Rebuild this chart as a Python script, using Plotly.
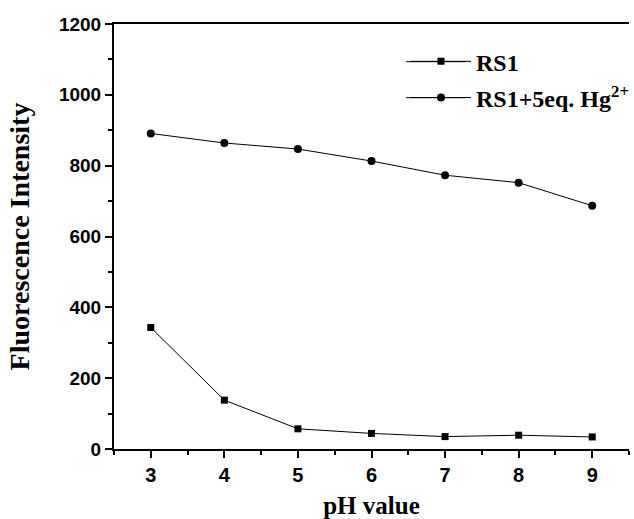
import plotly.graph_objects as go

ph = [3, 4, 5, 6, 7, 8, 9]
rs1 = [343, 138, 57, 44, 35, 39, 34]
rs1_hg = [891, 864, 847, 813, 773, 752, 687]
x_ticks = [3, 4, 5, 6, 7, 8, 9]
y_ticks = [0, 200, 400, 600, 800, 1000, 1200]

fig = go.Figure()
fig.add_trace(go.Scatter(x=ph, y=rs1, mode="lines+markers", name="<b>RS1</b>",
                         line=dict(color="black", width=1),
                         marker=dict(symbol="square", size=7, color="black"),
                         legendgroup="a"))
fig.add_trace(go.Scatter(x=ph, y=rs1_hg, mode="lines+markers", name="<b>RS1+5eq. Hg<sup>2+</sup></b>",
                         line=dict(color="black", width=1),
                         marker=dict(symbol="circle", size=8, color="black"),
                         legendgroup="b"))

# extend the short legend sample lines to the reference's longer ones
for yy in (0.9113, 0.8266):
    fig.add_shape(type="line", xref="paper", yref="paper", x0=0.5673, x1=0.6827, y0=yy, y1=yy,
                  line=dict(color="black", width=1), layer="above")

fig.update_layout(
    width=634, height=519,
    margin=dict(l=114, r=0, t=24, b=70),
    plot_bgcolor="white", paper_bgcolor="white",
    showlegend=True,
    legend=dict(x=0.5673, y=0.9642, xanchor="left", yanchor="top",
                font=dict(family="Liberation Serif", size=24, color="black"),
                bgcolor="rgba(0,0,0,0)", itemwidth=60, tracegroupgap=2,
                traceorder="grouped"),
)
fig.update_xaxes(range=[2.5, 9.5], tickvals=x_ticks, ticks="outside", ticklen=7, tickwidth=1.5,
                 tickcolor="black", showline=True, linewidth=2, linecolor="black", mirror=True,
                 showgrid=False, zeroline=False, automargin=False,
                 tickfont=dict(family="Liberation Sans", size=20, color="black", weight="bold"),
                 minor=dict(dtick=0.5, tick0=2.5, ticks="outside", ticklen=4, tickwidth=1.5, tickcolor="black", showgrid=False),
                 title=dict(text="<b>pH value</b>", standoff=11,
                            font=dict(family="Liberation Serif", size=25, color="black")))
fig.update_yaxes(range=[0, 1200], tickvals=y_ticks, ticks="outside", ticklen=7, tickwidth=1.5,
                 tickcolor="black", showline=True, linewidth=2, linecolor="black", mirror=False,
                 showgrid=False, zeroline=False, automargin=False,
                 tickfont=dict(family="Liberation Sans", size=19, color="black", weight="bold"),
                 minor=dict(dtick=100, ticks="outside", ticklen=4, tickwidth=1.5, tickcolor="black", showgrid=False),
                 title=dict(text="<b>Fluorescence Intensity</b>", standoff=21,
                            font=dict(family="Liberation Serif", size=28, color="black")))

fig.write_html("out.html", config={"displayModeBar": False},
               post_script="document.body.style.margin='0';document.body.style.overflow='hidden';")
